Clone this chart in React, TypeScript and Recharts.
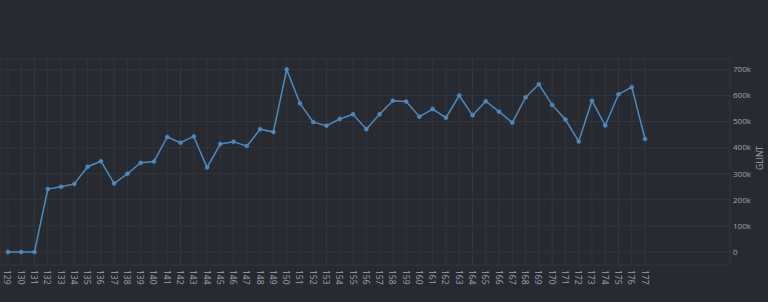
import { LineChart, Line, XAxis, YAxis, CartesianGrid } from 'recharts';

// build numbers 129..177
const builds = [
  129, 130, 131, 132, 133, 134, 135, 136, 137, 138, 139, 140, 141, 142, 143, 144, 145,
  146, 147, 148, 149, 150, 151, 152, 153, 154, 155, 156, 157, 158, 159, 160, 161, 162,
  163, 164, 165, 166, 167, 168, 169, 170, 171, 172, 173, 174, 175, 176, 177,
];

const glint = [
  0, 0, 0, 241000, 250000, 261000, 327000, 348000, 263000, 300000, 342000, 347000, 441000,
  419000, 443000, 324000, 414000, 423000, 406000, 471000, 460000, 700000, 570000, 498000,
  484000, 510000, 528000, 471000, 528000, 580000, 577000, 519000, 548000, 515000, 600000,
  524000, 578000, 538000, 496000, 593000, 643000, 564000, 508000, 424000, 580000, 485000,
  605000, 632000, 433000,
];

const yTicks = [0, 100000, 200000, 300000, 400000, 500000, 600000, 700000];

const data = builds.map((b, i) => ({ build: b, glint: glint[i] }));

const bg = '#272a30';
const gridColor = '#33363c';
const textColor = '#a2a6ab';
const lineColor = '#4a8bc4';
const font = '"Open Sans", "DejaVu Sans", sans-serif';

function BuildTick(props: any) {
  const { x, y, payload } = props;
  const ty = y - 3;
  return (
    <text
      x={x}
      y={ty}
      transform={`rotate(90, ${x}, ${ty})`}
      fill={textColor}
      fontSize={8.5}
      fontFamily={font}
      textAnchor="start"
      dominantBaseline="central"
    >
      {payload.value}
    </text>
  );
}

const fmtK = (v: number) => (v === 0 ? '0' : `${v / 1000}k`);

export default function App() {
  return (
    <div style={{ position: 'fixed', top: 0, left: 0, width: 768, height: 302, background: bg }}>
      <LineChart width={768} height={302} data={data} margin={{ top: 59, right: 0, left: 0, bottom: 0 }}>
        <CartesianGrid stroke={gridColor} strokeWidth={1} />
        <XAxis
          dataKey="build"
          type="number"
          domain={[128.4, 183.4]}
          allowDataOverflow
          ticks={builds}
          interval={0}
          tick={<BuildTick />}
          axisLine={false}
          tickLine={false}
          height={37}
        />
        <YAxis
          orientation="right"
          domain={[-50000, 740000]}
          allowDataOverflow
          ticks={yTicks}
          tickFormatter={fmtK}
          tick={{ fill: textColor, fontSize: 8, fontFamily: font, textAnchor: 'start' }}
          axisLine={false}
          tickLine={false}
          tickSize={0}
          tickMargin={3}
          width={38}
        />
        <Line
          type="linear"
          dataKey="glint"
          stroke={lineColor}
          strokeWidth={1.5}
          dot={{ r: 2, fill: lineColor, stroke: lineColor, strokeWidth: 0.5 }}
          activeDot={false}
          isAnimationActive={false}
        />
      </LineChart>
      {/* y axis title, rotated to read bottom-to-top */}
      <div
        style={{
          position: 'absolute',
          left: 740,
          top: 152,
          width: 40,
          height: 12,
          lineHeight: '12px',
          textAlign: 'center',
          fontSize: 8.5,
          fontFamily: font,
          color: textColor,
          transform: 'rotate(-90deg)',
        }}
      >
        GLINT
      </div>
    </div>
  );
}
